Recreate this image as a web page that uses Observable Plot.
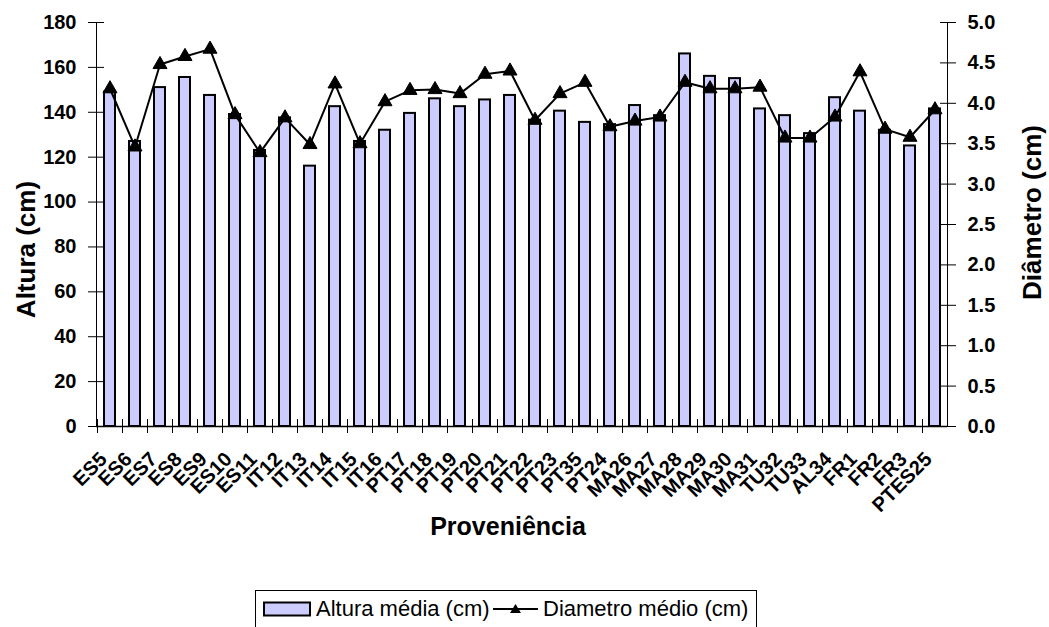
<!DOCTYPE html>
<html>
<head>
<meta charset="utf-8">
<script src="https://cdn.jsdelivr.net/npm/d3@7"></script>
<script src="https://cdn.jsdelivr.net/npm/@observablehq/plot@0.6"></script>
<style>
  html, body { margin: 0; padding: 0; background: #fff; overflow: hidden; }
  body { width: 1049px; height: 627px; font-family: "Liberation Sans", Arial, sans-serif; }
  #legend {
    position: absolute; left: 255px; top: 590px; width: 502px; height: 50px;
    border: 1px solid #000; box-sizing: border-box; background: #fff;
    font-size: 22px; color: #000; white-space: nowrap;
  }
  #legend .item { position: absolute; top: 5px; display: flex; align-items: center; }
</style>
</head>
<body>
<div id="chart"></div>
<div id="legend">
  <div class="item" style="left:7px">
    <svg width="49" height="16" style="margin-right:4px"><rect x="1" y="1.5" width="46" height="13" fill="#ccccff" stroke="#000" stroke-width="2"/></svg>
    <span>Altura média (cm)</span>
  </div>
  <div class="item" style="left:237px">
    <svg width="46" height="16" style="margin-right:4px"><line x1="0" y1="8" x2="45" y2="8" stroke="#000" stroke-width="2"/><path d="M22.5 3 L28 12 L17 12 Z" fill="#000"/></svg>
    <span>Diametro médio (cm)</span>
  </div>
</div>
<script>
const categories = ["ES5","ES6","ES7","ES8","ES9","ES10","ES11","IT12","IT13","IT14","IT15","IT16","PT17","PT18","PT19","PT20","PT21","PT22","PT23","PT35","PT24","MA26","MA27","MA28","MA29","MA30","MA31","TU32","TU33","AL34","FR1","FR2","FR3","PTES25"];
const altura = [149,127,151,155.5,147.5,139,123,137.5,116,142.5,127,132,139.5,146,142.5,145.5,147.5,136.5,140.5,135.5,134.5,143,138.5,166,156,155,141.5,138.5,130.5,146.5,140.5,132,125,141.5];
const diametro = [4.18,3.46,4.48,4.58,4.67,3.86,3.39,3.82,3.49,4.24,3.50,4.02,4.16,4.17,4.12,4.36,4.40,3.79,4.12,4.26,3.71,3.78,3.83,4.26,4.18,4.18,4.20,3.57,3.57,3.83,4.39,3.68,3.58,3.92];
const alturaTicks = [0,20,40,60,80,100,120,140,160,180];
const diamTicks = [0,0.5,1,1.5,2,2.5,3,3.5,4,4.5,5];
const ratio = 180 / 5; // right axis 0–5 maps onto left axis 0–180

const data = categories.map((c, i) => ({cat: c, altura: altura[i], diam: diametro[i]}));

const font = "Liberation Sans, Arial, sans-serif";
const chart = Plot.plot({
  width: 1049,
  height: 585,
  marginLeft: 96,
  marginRight: 102,
  marginTop: 22,
  marginBottom: 159,
  style: {fontFamily: font, fontSize: "20px", fontWeight: "bold", color: "#000", background: "#fff", overflow: "visible"},
  x: {domain: categories, paddingInner: 0.56, paddingOuter: 0.28, label: null, axis: null},
  y: {domain: [0, 180], label: null, axis: null},
  marks: [
    Plot.barY(data, {x: "cat", y: "altura", fill: "#ccccff", stroke: "#000", strokeWidth: 2}),
    Plot.line(data, {x: "cat", y: d => d.diam * ratio, stroke: "#000", strokeWidth: 2}),
    Plot.dot(data, {x: "cat", y: d => d.diam * ratio, symbol: "triangle", r: 5.2, fill: "#000", stroke: "#000", strokeWidth: 1}),
    // axis lines
    Plot.frame({anchor: "left", stroke: "#000", strokeWidth: 1}),
    Plot.frame({anchor: "right", stroke: "#000", strokeWidth: 1}),
    Plot.ruleY([0], {stroke: "#000", strokeWidth: 1.5}),
    // left axis: crossing ticks
    Plot.axisY({ticks: alturaTicks, tickSize: 16, dx: 8, text: null, stroke: "#000", strokeWidth: 1}),
    // right axis: crossing ticks
    Plot.axisY({anchor: "right", ticks: diamTicks.map(v => v * ratio), tickSize: 16, dx: -8, text: null, stroke: "#000", strokeWidth: 1}),
    // x axis: category boundary ticks
    Plot.axisX({ticks: categories, tickSize: 14, dy: -7, dx: -12.5, text: null, stroke: "#000", strokeWidth: 1}),
    // tick labels
    Plot.text(alturaTicks, {y: d => d, text: d => String(d), frameAnchor: "left", dx: -20, textAnchor: "end", fontSize: 20, fontWeight: "bold"}),
    Plot.text(diamTicks, {y: d => d * ratio, text: d => d.toFixed(1), frameAnchor: "right", dx: 20, textAnchor: "start", fontSize: 20, fontWeight: "bold"}),
    Plot.text(categories, {x: d => d, text: d => d, frameAnchor: "bottom", dx: -2, dy: 34, rotate: -45, textAnchor: "end", fontSize: 20, fontWeight: "bold", letterSpacing: 0.8}),
    // axis titles
    Plot.text(["Altura (cm)"], {frameAnchor: "left", dx: -70, dy: 25, rotate: -90, textAnchor: "middle", fontSize: 26, fontWeight: "bold", letterSpacing: 1.5}),
    Plot.text(["Diâmetro (cm)"], {frameAnchor: "right", dx: 85, dy: -12, rotate: -90, textAnchor: "middle", fontSize: 26, fontWeight: "bold", letterSpacing: 1.8}),
    Plot.text(["Proveniência"], {frameAnchor: "bottom", dx: -14, dy: 108, fontSize: 25, fontWeight: "bold"})
  ]
});
document.getElementById("chart").appendChild(chart);
</script>
</body>
</html>
